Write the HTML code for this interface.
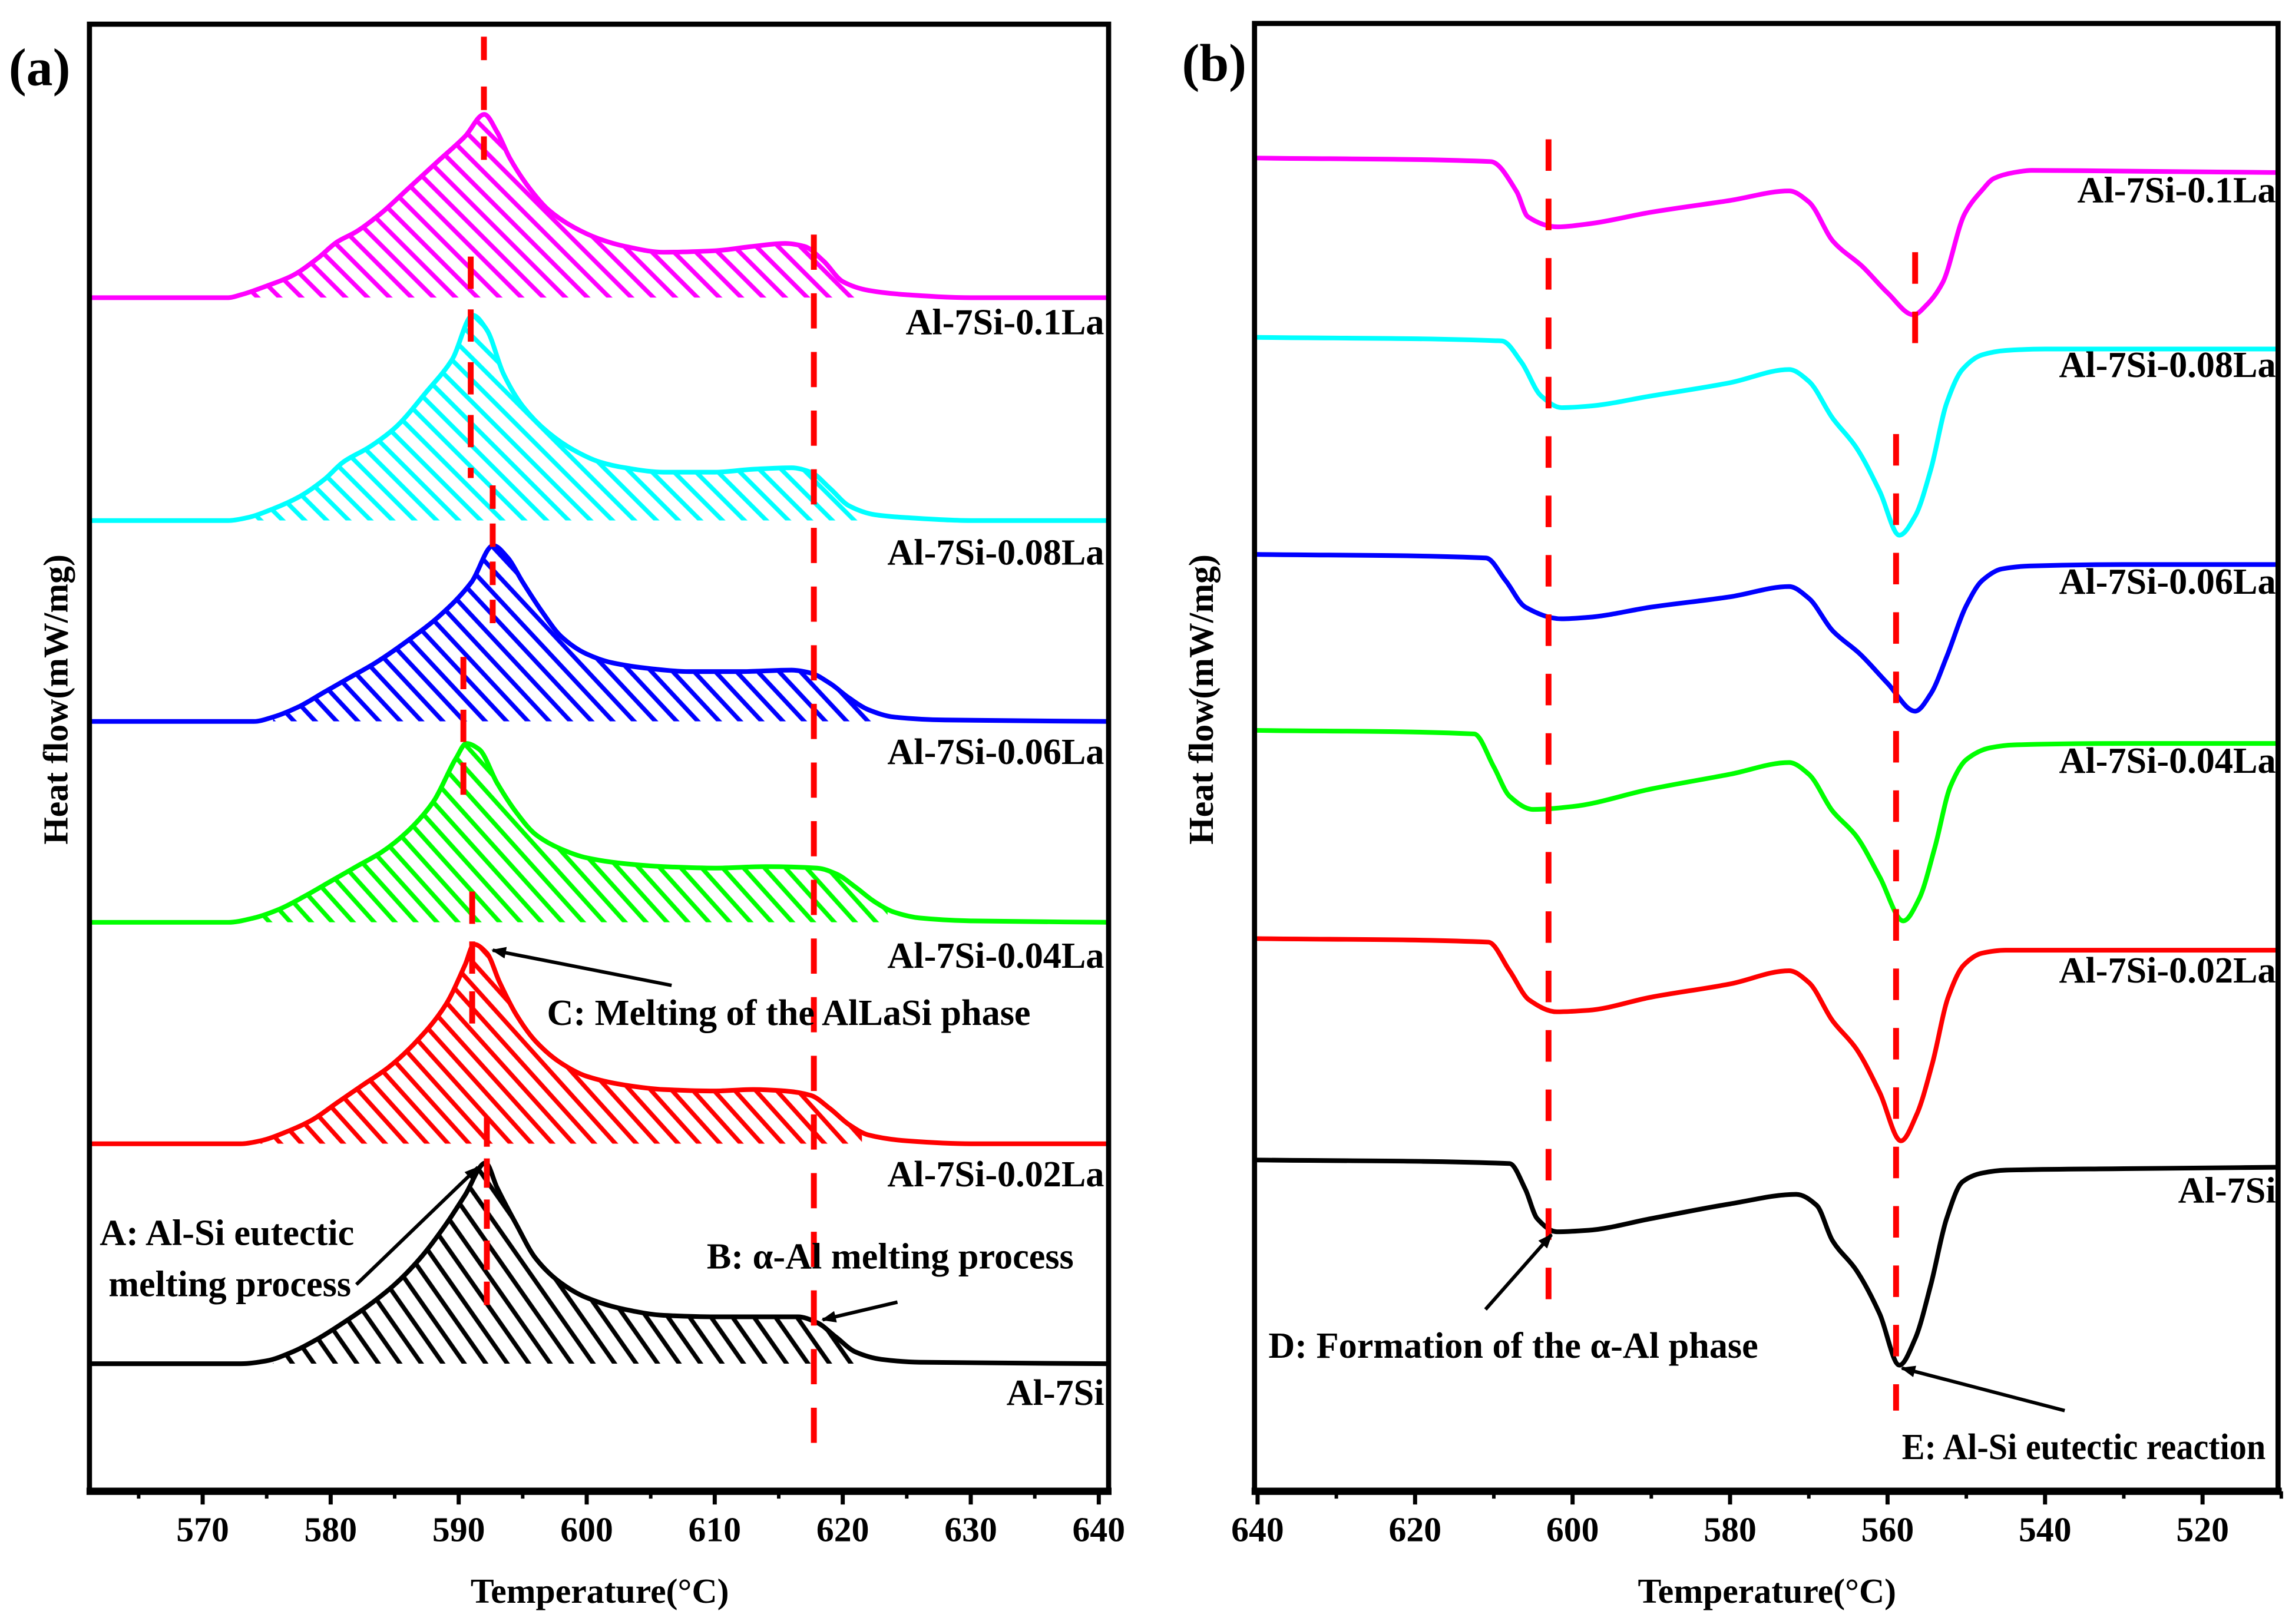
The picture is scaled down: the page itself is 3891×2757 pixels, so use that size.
<!DOCTYPE html>
<html><head><meta charset="utf-8"><style>
html,body{margin:0;padding:0;background:#fff}
svg{display:block}
text{font-family:"Liberation Serif","DejaVu Serif",serif;font-weight:bold;fill:#000}
</style></head><body>
<svg id="fig" xmlns="http://www.w3.org/2000/svg" width="3891" height="2757" viewBox="0 0 1563 1107.5" preserveAspectRatio="none">
<defs>
<marker id="ah" markerWidth="10" markerHeight="8" refX="9" refY="4" orient="auto" markerUnits="userSpaceOnUse"><polygon points="0,0 10,4 0,8" fill="#000"/></marker>
<clipPath id="clipA"><rect x="61" y="17" width="695" height="998"/></clipPath>
<clipPath id="clipB"><rect x="855" y="16" width="698" height="999"/></clipPath>
</defs>
<g id="panelA"></g>
<g id="panelB"></g>
</svg>
<script>
// ---- Panel (a) data: heating curves (offset above baseline) ----
const aNames = ['Al-7Si-0.1La','Al-7Si-0.08La','Al-7Si-0.06La','Al-7Si-0.04La','Al-7Si-0.02La','Al-7Si'];
const aColors = ['#ff00ff','#00ffff','#0000ff','#00ff00','#ff0000','#000000'];
const aBase = [203,355,492,629,780,930];
const aT0 = [561,572,573,575,577,579,580.5,582,584,586,588.5,590.5,592,593,594,595.5,597,599,601,603,606,610,613,615.5,617,618.5,620,622,625,630,641];
const aV0 = [0,0,2,8,15,27,38,45,58,74,94,110,125,113,95,75,60,48,40,35,31,32,35,37,35,25,11,5,2,0,0];
const aT1 = [561,572,573.5,575.5,577.5,579.5,581,583,585,587.5,589.5,591.1,592.2,593.5,595,597,599,601,603,606,610,613,616,617.5,619,620.5,622.5,625,630,641];
const aV1 = [0,0,2,8,16,28,40,50,63,88,110,140,130,100,78,60,48,40,36,33,33,35,36,33,22,10,4,2,0,0];
const aT2 = [561,574,575.5,577.5,579.5,581.5,583.5,586,588.5,591,592.7,593.8,595,596.5,598,600,602,605,608,612,616,617.5,619,620.5,622,624,628,641];
const aV2 = [0,0,3,10,20,30,40,55,72,95,120,112,95,75,58,46,40,36,34,34,35,33,26,16,8,3,1,0];
const aT3 = [561,572,574,576,578,580,582,584,586,588,589.8,590.6,591.6,593,594.5,596,598,600,603,606,610,614,618,619.5,621,622.5,624,626,630,641];
const aV3 = [0,0,3,9,18,28,38,48,62,82,112,122,118,95,75,60,50,44,40,38,37,38,37,33,24,14,7,3,1,0];
const aT4 = [561,573,574.5,576.5,578.5,580.5,582.5,584.5,586.5,589,590.5,591.2,592.2,593.2,594.5,596,598,600,603,606,610,613,615.5,617.5,619,620.5,622,625,630,641];
const aV4 = [0,0,2,8,16,28,40,52,68,95,122,136,130,110,88,70,55,46,40,37,36,37,36,33,24,13,6,2,0,0];
const aT5 = [561,573,575,577,579,581,583,585,587,589,590.5,592.1,593,594.5,596,598,600,603,606,610,614,616.5,618,619.5,621,623,626,641];
const aV5 = [0,0,2,8,17,28,40,54,72,95,115,137,120,95,72,55,45,37,33,32,32,32,28,18,8,3,1,0];
const aHatchStart = [573.5,574,575.5,574.5,574.5,575.5];
const aHatchEnd = [621.5,621.5,622.5,623.5,621.5,621];
const aHatchAngle = [45,45,47,48,48,55];
const aTicks = [570,580,590,600,610,620,630,640];
const aMinor = [565,575,585,595,605,615,625,635];

// ---- Panel (b) data: cooling curves (offset below start level) ----
const bNames = ['Al-7Si-0.1La','Al-7Si-0.08La','Al-7Si-0.06La','Al-7Si-0.04La','Al-7Si-0.02La','Al-7Si'];
const bColors = ['#ff00ff','#00ffff','#0000ff','#00ff00','#ff0000','#000000'];
const bBase = [107.7,230,378,498,640,791];
const bT0 = [641,610.4,607.1,605.7,601.9,598,590,580,572.5,570,566.9,563.2,560,556.7,555,553,550.2,548,546.5,544,541.7,530,510];
const bV0 = [0,2.5,23,40,47,45,37,29,22.5,30,57,74,92,107,100,85,38,22,14,10,8.5,9,10];
const bT1 = [641,609,606.5,604,601.4,598,590,580,572.5,570,567,564,561,558.5,556.5,554.5,552.5,550.5,548,545,540,530,510];
const bV1 = [0,2.5,17,40,48,47,40,31,22,30,55,75,105,135,122,90,45,22,12,9,8,8,8];
const bT2 = [641,611,608.5,606,601.4,598,590,580,572.5,570,567,563.5,560,556.5,554.5,552.5,550,548,545.5,542,530,510];
const bV2 = [0,2.5,18,36,44,43,36,29,22,30,52,68,88,107,95,70,35,18,10,8,7,7];
const bT3 = [641,612.5,610,608,605,600,590,580,572.5,570,567,564,561,558,556,554,552,550,547,544,530,510];
const bV3 = [0,2.5,25,45,54,52,40,30,22,30,55,72,100,130,115,80,38,20,12,10,9,9];
const bT4 = [641,610.7,608,605.5,602,598,590,580,572.5,570,567,564,561,558.3,556.3,554.3,552.3,550.3,548,545,530,510];
const bV4 = [0,2.5,22,42,50,49,40,31,22,30,56,75,105,138,120,85,40,18,10,8,8,8];
const bT5 = [641,608,606,604.5,602,598,590,580,571.6,569,567,564,561,558.5,556.5,554.5,552.5,550.5,548,545,530,510];
const bV5 = [0,2.5,20,40,49,48,40,30,23.5,31,55,75,105,140,122,85,40,15,9,7,6,5];
const bTicks = [640,620,600,580,560,540,520];
const bMinor = [630,610,590,570,550,530,510];

const NS='http://www.w3.org/2000/svg';
function el(tag, parent, attrs){const e=document.createElementNS(NS,tag);for(const k in attrs)e.setAttribute(k,attrs[k]);parent.appendChild(e);return e;}
const xA = T => 138.2 + (T-570)*8.73;
const xB = T => 857.6 + (640-T)*5.37;
function smooth(p){
 const n=p.length; const dx=[],s=[];
 for(let i=0;i<n-1;i++){dx.push(p[i+1][0]-p[i][0]);s.push((p[i+1][1]-p[i][1])/dx[i]);}
 const m=new Array(n);
 m[0]=s[0];m[n-1]=s[n-2];
 for(let i=1;i<n-1;i++){ if(s[i-1]*s[i]<=0) m[i]=0; else { const w1=2*dx[i]+dx[i-1], w2=dx[i]+2*dx[i-1]; m[i]=(w1+w2)/(w1/s[i-1]+w2/s[i]); } }
 let d='M'+p[0][0].toFixed(2)+','+p[0][1].toFixed(2);
 for(let i=0;i<n-1;i++){const h=dx[i]/3;
  d+=' C'+(p[i][0]+h).toFixed(2)+','+(p[i][1]+m[i]*h).toFixed(2)+' '+(p[i+1][0]-h).toFixed(2)+','+(p[i+1][1]-m[i+1]*h).toFixed(2)+' '+p[i+1][0].toFixed(2)+','+p[i+1][1].toFixed(2);}
 return d;}
function txt(parent,x,y,s,size,anchor,name){const t=el('text',parent,{x:x,y:y,'font-size':size,'text-anchor':anchor||'start'});t.textContent=s;
 
 return t;}
function arrow(parent,x1,y1,x2,y2,name){const l=el('line',parent,{x1:x1,y1:y1,x2:x2,y2:y2,stroke:'#000','stroke-width':2.4,'marker-end':'url(#ah)'});
 
 }
function vdash(parent,x,y1,y2,dash,name){const l=el('line',parent,{x1:x,y1:y1,x2:x,y2:y2,stroke:'#ff0000','stroke-width':4,'stroke-dasharray':dash});
 
 }
const defs=document.querySelector('defs');

// ===== Panel A =====
const A=document.getElementById('panelA');
const aT=[aT0,aT1,aT2,aT3,aT4,aT5], aV=[aV0,aV1,aV2,aV3,aV4,aV5];
const gA=el('g',A,{'clip-path':'url(#clipA)'});


for(let i=0;i<6;i++){
 const pts=aT[i].map((T,j)=>[xA(T),aBase[i]-aV[i][j]]);
 const d=smooth(pts);
 const pat=el('pattern',defs,{id:'hat'+i,patternUnits:'userSpaceOnUse',width:i==5?12:10.6,height:20,patternTransform:'rotate('+(aHatchAngle[i]-90)+')'});
 el('line',pat,{x1:2,y1:-5,x2:2,y2:25,stroke:aColors[i],'stroke-width':3});
 const cp=el('clipPath',defs,{id:'area'+i});
 el('path',cp,{d:d+' L'+xA(641)+','+aBase[i]+' L'+xA(561)+','+aBase[i]+' Z'});
 const xs=xA(aHatchStart[i]), xe=xA(aHatchEnd[i]);
 const h=el('rect',gA,{x:xs,y:aBase[i]-160,width:xe-xs,height:160,fill:'url(#hat'+i+')','clip-path':'url(#area'+i+')'});
 
 
 const c=el('path',gA,{d:d,fill:'none',stroke:aColors[i],'stroke-width':3.2,'stroke-linejoin':'round'});
 
 
}
vdash(A,555,160,1000,'24,16','dashed-line-a-alpha-al');
vdash(A,330,25,120,'16,18','dashed-line-a-peak-01');
vdash(A,321,175,326,'22,14','dashed-line-a-peak-008');
vdash(A,336,331,428,'16,10','dashed-line-a-peak-006');
vdash(A,316,448,545,'22,14','dashed-line-a-peak-004');
vdash(A,322,608,703,'22,12','dashed-line-a-peak-002');
vdash(A,332,762,890,'20,8','dashed-line-a-peak-0');
const aLabY=[228,385,521,660,809,958];
for(let i=0;i<6;i++){txt(A,753,aLabY[i],aNames[i],25,'end','series-label-a-'+i);}
txt(A,373,699,'C: Melting of the AlLaSi phase',25,'start','annotation-c');
arrow(A,458,672,336,648,'arrow-c');
txt(A,68,849,'A: Al-Si eutectic',25,'start','annotation-a-line1');
txt(A,74,884,'melting process',25,'start','annotation-a-line2');
arrow(A,243,876,326,796,'arrow-a');
txt(A,482,865,'B: \u03b1-Al melting process',25,'start','annotation-b');
arrow(A,612,888,561,900,'arrow-b');
el('rect',A,{x:61,y:16.5,width:695,height:1000,fill:'none',stroke:'#000','stroke-width':3.5});
el('line',A,{x1:59,y1:1017,x2:758,y2:1017,stroke:'#000','stroke-width':5});
for(const T of aTicks){const t=el('line',A,{x1:xA(T),y1:1017,x2:xA(T),y2:1026,stroke:'#000','stroke-width':2.8});
 
 
 txt(A,xA(T),1051,String(T),24,'middle','x-tick-label-a');}
for(const T of aMinor){const t=el('line',A,{x1:xA(T),y1:1017,x2:xA(T),y2:1022,stroke:'#000','stroke-width':2.4});
 
 }
txt(A,409,1093,'Temperature(\u00b0C)',24,'middle','x-axis-title-a');
const ya=txt(A,0,0,'Heat flow(mW/mg)',24,'middle','y-axis-title-a');ya.setAttribute('transform','translate(46,477) rotate(-90)');
txt(A,6,58,'(a)',36,'start','panel-label-a');

// ===== Panel B =====
const B=document.getElementById('panelB');
const bT=[bT0,bT1,bT2,bT3,bT4,bT5], bV=[bV0,bV1,bV2,bV3,bV4,bV5];
const gB=el('g',B,{'clip-path':'url(#clipB)'});


for(let i=0;i<6;i++){
 const pts=bT[i].map((T,j)=>[xB(T),bBase[i]+bV[i][j]]);
 const c=el('path',gB,{d:smooth(pts),fill:'none',stroke:bColors[i],'stroke-width':3.2,'stroke-linejoin':'round'});
 
 
}
vdash(B,1056,95,890,'21.5,19','dashed-line-b-alpha-al');
vdash(B,1306,172,245,'21.5,19','dashed-line-b-eutectic-top');
vdash(B,1293,296,962,'21.5,19','dashed-line-b-eutectic');
const bLabY=[138,257,405,527,670,820];
for(let i=0;i<6;i++){txt(B,1552,bLabY[i],bNames[i],25,'end','series-label-b-'+i);}
txt(B,865,926,'D: Formation of the \u03b1-Al phase',25,'start','annotation-d');
arrow(B,1013,893,1058,842,'arrow-d');
const eT=txt(B,1297,995,'E: Al-Si eutectic reaction',25,'start','annotation-e');
eT.setAttribute('textLength','248');
eT.setAttribute('lengthAdjust','spacingAndGlyphs');
arrow(B,1408,962,1297,933,'arrow-e');
el('rect',B,{x:855.5,y:16,width:698,height:1001,fill:'none',stroke:'#000','stroke-width':3.5});
el('line',B,{x1:853.5,y1:1017,x2:1556,y2:1017,stroke:'#000','stroke-width':5});
for(const T of bTicks){const t=el('line',B,{x1:xB(T),y1:1017,x2:xB(T),y2:1026,stroke:'#000','stroke-width':2.8});
 
 
 txt(B,xB(T),1051,String(T),24,'middle','x-tick-label-b');}
for(const T of bMinor){const t=el('line',B,{x1:xB(T),y1:1017,x2:xB(T),y2:1022,stroke:'#000','stroke-width':2.4});
 
 }
txt(B,1205,1093,'Temperature(\u00b0C)',24,'middle','x-axis-title-b');
const yb=txt(B,0,0,'Heat flow(mW/mg)',24,'middle','y-axis-title-b');yb.setAttribute('transform','translate(827,477) rotate(-90)');
txt(B,806,55,'(b)',36,'start','panel-label-b');
</script>
</body></html>
